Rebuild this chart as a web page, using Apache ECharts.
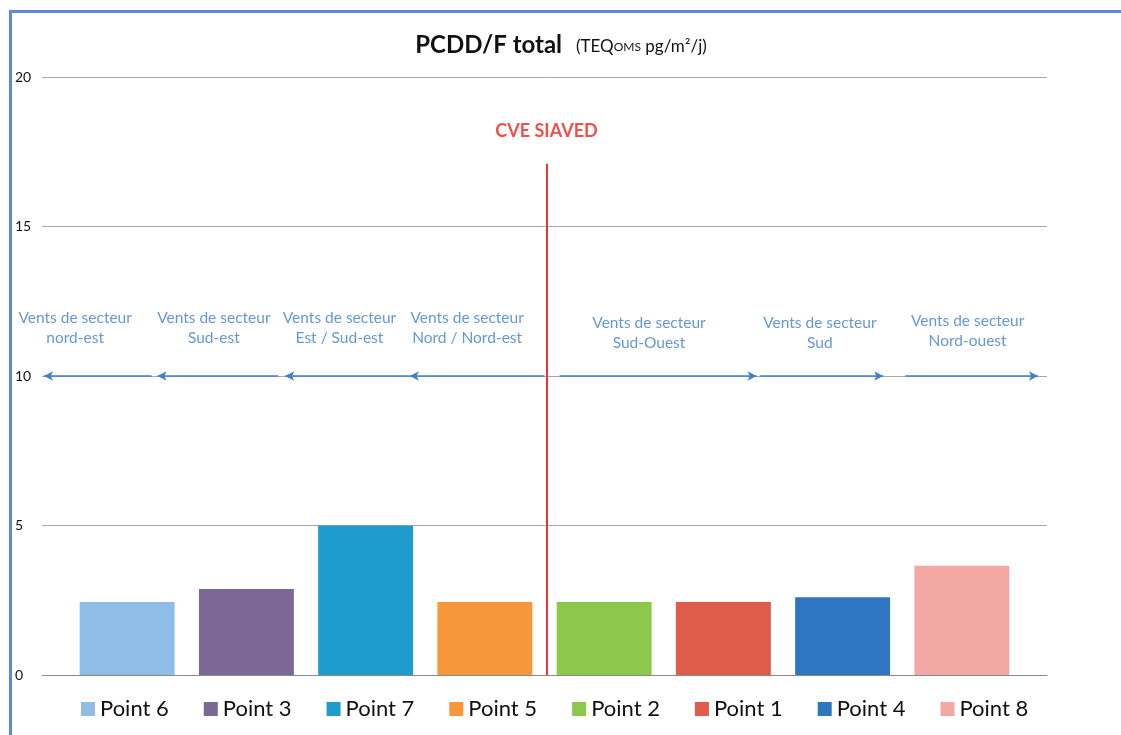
<!DOCTYPE html>
<html>
<head>
<meta charset="utf-8">
<script src="https://cdn.jsdelivr.net/npm/echarts@6/dist/echarts.min.js"></script>
<style>
    html, body { margin: 0; padding: 0; background: #fff; }
    #frame { position: absolute; left: 9px; top: 10px; width: 1112px; height: 725px;
             border-left: 3px solid #5b8bd2; border-top: 3px solid #5b8bd2; box-sizing: border-box; }
    #chart { position: absolute; left: 0; top: 0; width: 1121px; height: 735px; }
</style>
</head>
<body>
<div id="frame"></div>
<div id="chart"></div>
<script>
// bars: one series per sampling point
const points = ['Point 6', 'Point 3', 'Point 7', 'Point 5', 'Point 2', 'Point 1', 'Point 4', 'Point 8']
const values = [2.44, 2.88, 5.0, 2.44, 2.44, 2.44, 2.6, 3.65]
const colors = ['#8fbde8', '#7b6894', '#1e9cce', '#f7963a', '#8cc84b', '#e05c4a', '#2e76c1', '#f4a8a3']

// wind sector annotations, x in percent of the plot width
const windLabels = [
    'Vents de secteur\nnord-est', 'Vents de secteur\nSud-est', 'Vents de secteur\nEst / Sud-est',
    'Vents de secteur\nNord / Nord-est', 'Vents de secteur\nSud-Ouest', 'Vents de secteur\nSud',
    'Vents de secteur\nNord-ouest'
]
const windLabelX = [3.3, 17.1, 29.6, 42.3, 60.4, 77.4, 92.1]
const windLabelY = [11.6, 11.6, 11.6, 11.6, 11.45, 11.45, 11.5]
// arrows: [from, to] in percent, at y = 10
const arrows = [[10.9, 0.2], [23.5, 11.5], [36.6, 24.2], [50, 36.6], [51.5, 71.1], [71.4, 83.7], [85.9, 99.1]]
const siteX = 50.2
const siteTop = 17.1

let chart = echarts.init(document.getElementById('chart'))

let series = points.map(function (p, i) {
    return {
        name: p,
        type: 'bar',
        data: [values[i]],
        itemStyle: { color: colors[i] },
        barGap: '25.6%',
        barCategoryGap: '7.5%'
    }
})

series.push({
    type: 'scatter',
    xAxisIndex: 1,
    symbolSize: 0,
    silent: true,
    data: windLabels.map(function (t, i) { return [windLabelX[i], windLabelY[i], t] }),
    label: {
        show: true,
        position: 'inside',
        formatter: function (p) { return p.data[2] },
        color: '#3f7ec7',
        fontFamily: 'Lato',
        fontSize: 15.5,
        lineHeight: 20,
        align: 'center'
    },
    markLine: {
        silent: true,
        symbol: ['none', 'arrow'],
        symbolSize: [7, 9],
        lineStyle: { color: '#3f80c8', type: 'solid', width: 1.6 },
        label: { show: false },
        data: arrows.map(function (a) { return [{ coord: [a[0], 10] }, { coord: [a[1], 10] }] })
    }
})

series.push({
    type: 'scatter',
    xAxisIndex: 1,
    symbolSize: 0,
    silent: true,
    data: [[siteX, 18.2]],
    label: {
        show: true,
        position: 'inside',
        formatter: 'CVE SIAVED',
        color: '#e8261f',
        fontFamily: 'Lato',
        fontWeight: 'bold',
        fontSize: 18
    },
    markLine: {
        silent: true,
        symbol: ['none', 'none'],
        lineStyle: { color: '#e8353a', type: 'solid', width: 2 },
        label: { show: false },
        data: [[{ coord: [siteX, 0] }, { coord: [siteX, siteTop] }]]
    }
})

chart.setOption({
    animation: false,
    textStyle: { fontFamily: 'Lato' },
    title: {
        text: '{b|PCDD/F total}   {s|(TEQ}{xs|OMS}{s| pg/m²/j)}',
        left: 556,
        textAlign: 'center',
        top: 28,
        textStyle: {
            fontWeight: 'normal',
            rich: {
                b: { fontSize: 24, fontWeight: 'bold', color: '#111', fontFamily: 'Lato' },
                s: { fontSize: 17, fontWeight: 'normal', color: '#111', fontFamily: 'Lato', padding: [4, 0, 0, 0] },
                xs: { fontSize: 12, fontWeight: 'normal', color: '#111', fontFamily: 'Lato', padding: [4, 0, 0, 0] }
            }
        }
    },
    legend: {
        bottom: 10,
        left: 76,
        itemWidth: 14,
        itemHeight: 14,
        itemGap: 35,
        icon: 'rect',
        textStyle: { fontSize: 22, color: '#111', fontFamily: 'Lato' },
        data: points
    },
    grid: { left: 42, right: 74, top: 77, bottom: 60 },
    xAxis: [
        {
            type: 'category',
            data: [''],
            axisLine: { show: true, lineStyle: { color: '#8a8a8a' } },
            axisTick: { show: false },
            axisLabel: { show: false }
        },
        {
            type: 'value',
            min: 0,
            max: 100,
            show: false
        }
    ],
    yAxis: {
        type: 'value',
        min: 0,
        max: 20,
        interval: 5,
        axisLine: { show: false },
        axisTick: { show: false },
        axisLabel: { color: '#111', fontSize: 14, margin: 27, align: 'left' },
        splitLine: { lineStyle: { color: '#a8a8a8', width: 1 } }
    },
    series: series
})
</script>
</body>
</html>
